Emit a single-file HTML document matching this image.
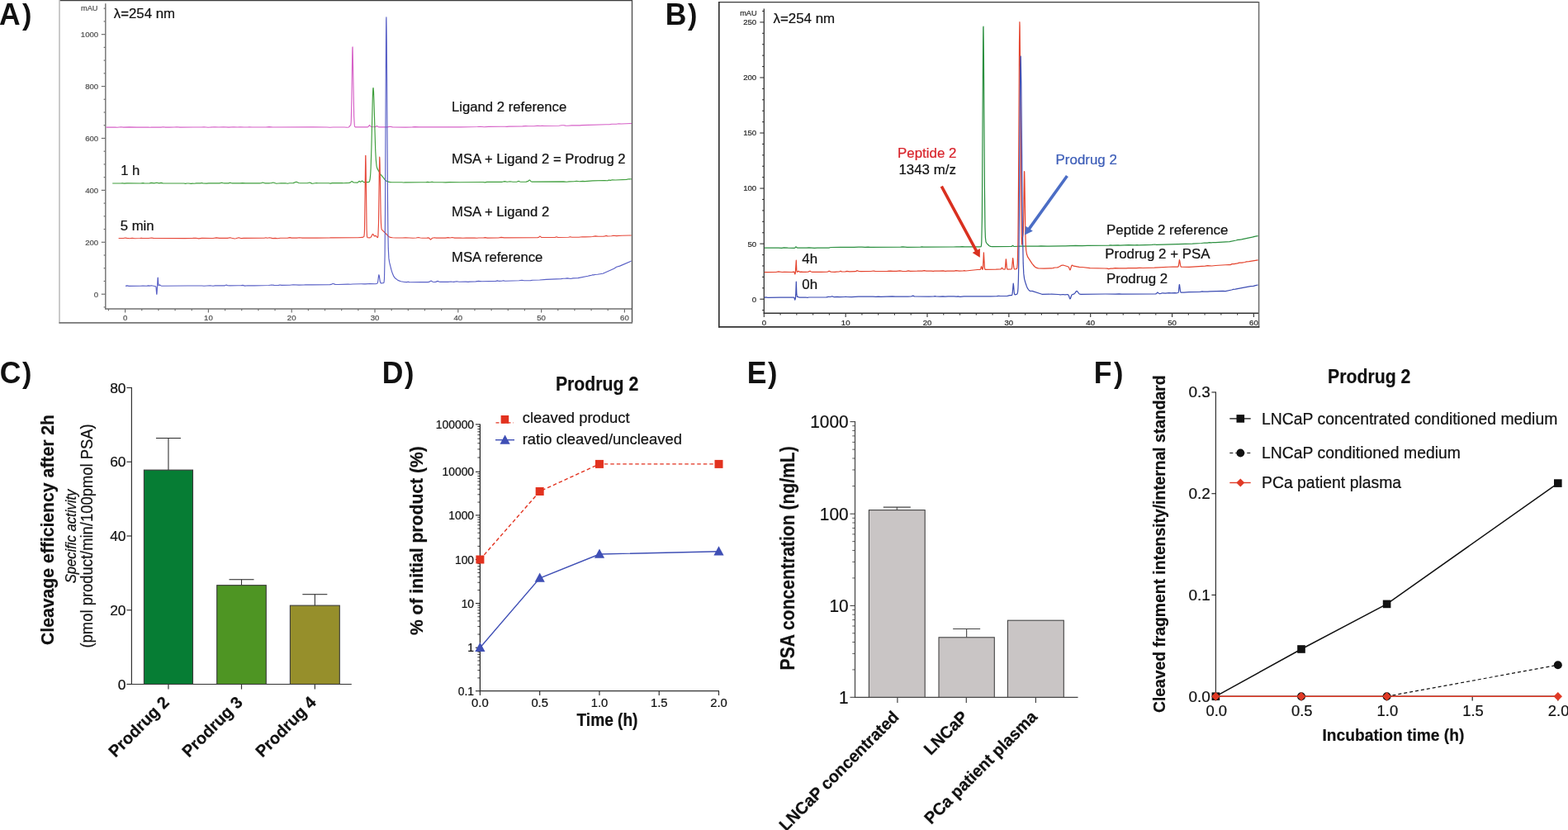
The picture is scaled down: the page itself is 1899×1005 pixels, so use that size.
<!DOCTYPE html>
<html><head><meta charset="utf-8"><title>Figure</title>
<style>
html,body{margin:0;padding:0;background:#fff;}
body{width:1899px;height:1005px;overflow:hidden;}
svg{display:block;font-family:'Liberation Sans', Arial, Helvetica, sans-serif;}
</style></head><body>
<svg width="1899" height="1005" viewBox="0 0 1899 1005">
<rect width="1899" height="1005" fill="#fff"/>
<text font-size="37" font-weight="bold" fill="#111" transform="translate(-0.90 29.80) scale(0.96 1)">A<tspan x="29.17" y="0.10" font-size="35.6">)</tspan></text>
<text font-size="37" font-weight="bold" fill="#111" transform="translate(805.70 29.80) scale(0.96 1)">B<tspan x="28.33" y="0.10" font-size="35.6">)</tspan></text>
<text font-size="37" font-weight="bold" fill="#111" transform="translate(-0.36 464.20) scale(0.96 1)">C<tspan x="28.60" y="-0.30" font-size="35.6">)</tspan></text>
<text font-size="37" font-weight="bold" fill="#111" transform="translate(462.70 463.80) scale(0.96 1)">D<tspan x="28.33" y="0.10" font-size="35.6">)</tspan></text>
<text font-size="37" font-weight="bold" fill="#111" transform="translate(904.80 463.80) scale(0.96 1)">E<tspan x="26.25" y="0.10" font-size="35.6">)</tspan></text>
<text font-size="37" font-weight="bold" fill="#111" transform="translate(1324.80 463.80) scale(0.96 1)">F<tspan x="25.10" y="0.10" font-size="35.6">)</tspan></text>
<line x1="72.00" y1="0.50" x2="766.00" y2="0.50" stroke="#3c3c3c" stroke-width="1.3" />
<line x1="765.50" y1="0.00" x2="765.50" y2="391.00" stroke="#4a4a4a" stroke-width="1.3" />
<line x1="72.00" y1="0.00" x2="72.00" y2="391.50" stroke="#bdbdbd" stroke-width="1.6" />
<line x1="71.50" y1="390.80" x2="766.00" y2="390.80" stroke="#767676" stroke-width="1.7" />
<line x1="127.80" y1="4.20" x2="127.80" y2="374.50" stroke="#707070" stroke-width="1.4" />
<line x1="127.10" y1="374.00" x2="765.00" y2="374.00" stroke="#707070" stroke-width="1.4" />
<line x1="125.60" y1="371.93" x2="127.80" y2="371.93" stroke="#707070" stroke-width="1.2" />
<line x1="122.80" y1="356.20" x2="127.80" y2="356.20" stroke="#707070" stroke-width="1.2" />
<text x="119.20" y="359.60" font-size="9.60" stroke="#505050" stroke-width="0.22" text-anchor="end" fill="#505050">0</text>
<line x1="125.60" y1="340.47" x2="127.80" y2="340.47" stroke="#707070" stroke-width="1.2" />
<line x1="125.60" y1="324.75" x2="127.80" y2="324.75" stroke="#707070" stroke-width="1.2" />
<line x1="125.60" y1="309.02" x2="127.80" y2="309.02" stroke="#707070" stroke-width="1.2" />
<line x1="122.80" y1="293.29" x2="127.80" y2="293.29" stroke="#707070" stroke-width="1.2" />
<text x="119.20" y="296.69" font-size="9.60" stroke="#505050" stroke-width="0.22" text-anchor="end" fill="#505050">200</text>
<line x1="125.60" y1="277.56" x2="127.80" y2="277.56" stroke="#707070" stroke-width="1.2" />
<line x1="125.60" y1="261.83" x2="127.80" y2="261.83" stroke="#707070" stroke-width="1.2" />
<line x1="125.60" y1="246.11" x2="127.80" y2="246.11" stroke="#707070" stroke-width="1.2" />
<line x1="122.80" y1="230.38" x2="127.80" y2="230.38" stroke="#707070" stroke-width="1.2" />
<text x="119.20" y="233.78" font-size="9.60" stroke="#505050" stroke-width="0.22" text-anchor="end" fill="#505050">400</text>
<line x1="125.60" y1="214.65" x2="127.80" y2="214.65" stroke="#707070" stroke-width="1.2" />
<line x1="125.60" y1="198.92" x2="127.80" y2="198.92" stroke="#707070" stroke-width="1.2" />
<line x1="125.60" y1="183.20" x2="127.80" y2="183.20" stroke="#707070" stroke-width="1.2" />
<line x1="122.80" y1="167.47" x2="127.80" y2="167.47" stroke="#707070" stroke-width="1.2" />
<text x="119.20" y="170.87" font-size="9.60" stroke="#505050" stroke-width="0.22" text-anchor="end" fill="#505050">600</text>
<line x1="125.60" y1="151.74" x2="127.80" y2="151.74" stroke="#707070" stroke-width="1.2" />
<line x1="125.60" y1="136.01" x2="127.80" y2="136.01" stroke="#707070" stroke-width="1.2" />
<line x1="125.60" y1="120.29" x2="127.80" y2="120.29" stroke="#707070" stroke-width="1.2" />
<line x1="122.80" y1="104.56" x2="127.80" y2="104.56" stroke="#707070" stroke-width="1.2" />
<text x="119.20" y="107.96" font-size="9.60" stroke="#505050" stroke-width="0.22" text-anchor="end" fill="#505050">800</text>
<line x1="125.60" y1="88.83" x2="127.80" y2="88.83" stroke="#707070" stroke-width="1.2" />
<line x1="125.60" y1="73.11" x2="127.80" y2="73.11" stroke="#707070" stroke-width="1.2" />
<line x1="125.60" y1="57.38" x2="127.80" y2="57.38" stroke="#707070" stroke-width="1.2" />
<line x1="122.80" y1="41.65" x2="127.80" y2="41.65" stroke="#707070" stroke-width="1.2" />
<text x="119.20" y="45.05" font-size="9.60" stroke="#505050" stroke-width="0.22" text-anchor="end" fill="#505050">1000</text>
<line x1="125.60" y1="25.92" x2="127.80" y2="25.92" stroke="#707070" stroke-width="1.2" />
<line x1="125.60" y1="10.19" x2="127.80" y2="10.19" stroke="#707070" stroke-width="1.2" />
<line x1="131.44" y1="374.00" x2="131.44" y2="376.30" stroke="#707070" stroke-width="1.2" />
<line x1="151.60" y1="374.00" x2="151.60" y2="378.60" stroke="#707070" stroke-width="1.2" />
<text x="151.60" y="388.40" font-size="9.60" stroke="#505050" stroke-width="0.22" text-anchor="middle" fill="#505050">0</text>
<line x1="171.76" y1="374.00" x2="171.76" y2="376.30" stroke="#707070" stroke-width="1.2" />
<line x1="191.92" y1="374.00" x2="191.92" y2="376.30" stroke="#707070" stroke-width="1.2" />
<line x1="212.08" y1="374.00" x2="212.08" y2="376.30" stroke="#707070" stroke-width="1.2" />
<line x1="232.24" y1="374.00" x2="232.24" y2="376.30" stroke="#707070" stroke-width="1.2" />
<line x1="252.40" y1="374.00" x2="252.40" y2="378.60" stroke="#707070" stroke-width="1.2" />
<text x="252.40" y="388.40" font-size="9.60" stroke="#505050" stroke-width="0.22" text-anchor="middle" fill="#505050">10</text>
<line x1="272.56" y1="374.00" x2="272.56" y2="376.30" stroke="#707070" stroke-width="1.2" />
<line x1="292.72" y1="374.00" x2="292.72" y2="376.30" stroke="#707070" stroke-width="1.2" />
<line x1="312.88" y1="374.00" x2="312.88" y2="376.30" stroke="#707070" stroke-width="1.2" />
<line x1="333.04" y1="374.00" x2="333.04" y2="376.30" stroke="#707070" stroke-width="1.2" />
<line x1="353.20" y1="374.00" x2="353.20" y2="378.60" stroke="#707070" stroke-width="1.2" />
<text x="353.20" y="388.40" font-size="9.60" stroke="#505050" stroke-width="0.22" text-anchor="middle" fill="#505050">20</text>
<line x1="373.36" y1="374.00" x2="373.36" y2="376.30" stroke="#707070" stroke-width="1.2" />
<line x1="393.52" y1="374.00" x2="393.52" y2="376.30" stroke="#707070" stroke-width="1.2" />
<line x1="413.68" y1="374.00" x2="413.68" y2="376.30" stroke="#707070" stroke-width="1.2" />
<line x1="433.84" y1="374.00" x2="433.84" y2="376.30" stroke="#707070" stroke-width="1.2" />
<line x1="454.00" y1="374.00" x2="454.00" y2="378.60" stroke="#707070" stroke-width="1.2" />
<text x="454.00" y="388.40" font-size="9.60" stroke="#505050" stroke-width="0.22" text-anchor="middle" fill="#505050">30</text>
<line x1="474.16" y1="374.00" x2="474.16" y2="376.30" stroke="#707070" stroke-width="1.2" />
<line x1="494.32" y1="374.00" x2="494.32" y2="376.30" stroke="#707070" stroke-width="1.2" />
<line x1="514.48" y1="374.00" x2="514.48" y2="376.30" stroke="#707070" stroke-width="1.2" />
<line x1="534.64" y1="374.00" x2="534.64" y2="376.30" stroke="#707070" stroke-width="1.2" />
<line x1="554.80" y1="374.00" x2="554.80" y2="378.60" stroke="#707070" stroke-width="1.2" />
<text x="554.80" y="388.40" font-size="9.60" stroke="#505050" stroke-width="0.22" text-anchor="middle" fill="#505050">40</text>
<line x1="574.96" y1="374.00" x2="574.96" y2="376.30" stroke="#707070" stroke-width="1.2" />
<line x1="595.12" y1="374.00" x2="595.12" y2="376.30" stroke="#707070" stroke-width="1.2" />
<line x1="615.28" y1="374.00" x2="615.28" y2="376.30" stroke="#707070" stroke-width="1.2" />
<line x1="635.44" y1="374.00" x2="635.44" y2="376.30" stroke="#707070" stroke-width="1.2" />
<line x1="655.60" y1="374.00" x2="655.60" y2="378.60" stroke="#707070" stroke-width="1.2" />
<text x="655.60" y="388.40" font-size="9.60" stroke="#505050" stroke-width="0.22" text-anchor="middle" fill="#505050">50</text>
<line x1="675.76" y1="374.00" x2="675.76" y2="376.30" stroke="#707070" stroke-width="1.2" />
<line x1="695.92" y1="374.00" x2="695.92" y2="376.30" stroke="#707070" stroke-width="1.2" />
<line x1="716.08" y1="374.00" x2="716.08" y2="376.30" stroke="#707070" stroke-width="1.2" />
<line x1="736.24" y1="374.00" x2="736.24" y2="376.30" stroke="#707070" stroke-width="1.2" />
<line x1="756.40" y1="374.00" x2="756.40" y2="378.60" stroke="#707070" stroke-width="1.2" />
<text x="756.40" y="388.40" font-size="9.60" stroke="#505050" stroke-width="0.22" text-anchor="middle" fill="#505050">60</text>
<text x="98.00" y="13.20" font-size="9.20" stroke="#505050" stroke-width="0.22" fill="#505050">mAU</text>
<text x="137.80" y="22.30" font-size="16.80" stroke="#111" stroke-width="0.22" fill="#111">λ=254 nm</text>
<path d="M128.5 154.1 L139.5 154.1 L142.0 154.3 L146.5 153.8 L149.5 154.1 L156.5 153.9 L165.5 154.1 L179.5 154.1 L181.5 154.3 L183.5 154.1 L195.0 154.1 L197.5 153.7 L200.5 154.1 L205.0 154.1 L211.0 154.0 L214.0 153.8 L218.0 154.1 L234.5 154.0 L244.0 154.0 L247.0 153.7 L252.0 154.2 L260.0 153.8 L265.0 154.0 L270.5 153.8 L277.0 154.1 L283.0 153.8 L287.5 154.0 L291.0 153.7 L295.5 154.0 L300.0 154.0 L302.0 153.8 L305.0 154.0 L322.0 154.0 L326.0 153.6 L330.5 154.0 L379.0 153.9 L396.0 154.0 L399.5 154.2 L403.5 154.0 L417.0 154.0 L420.3 154.3 L422.3 154.0 L422.9 153.6 L423.9 152.0 L424.5 151.9 L424.7 151.7 L425.1 149.2 L425.3 145.9 L425.9 120.5 L426.7 63.8 L426.9 57.1 L427.1 56.9 L428.7 140.7 L429.3 151.4 L429.7 153.3 L430.3 153.9 L445.0 153.9 L446.0 153.5 L447.2 151.8 L447.6 151.6 L449.0 153.2 L449.6 153.5 L454.2 153.7 L455.0 153.4 L456.4 152.5 L456.8 152.6 L458.0 153.7 L459.2 153.9 L468.9 153.9 L472.4 153.3 L475.4 153.9 L491.4 154.1 L499.4 153.9 L502.4 153.6 L507.4 153.9 L540.9 153.9 L543.4 153.7 L545.4 153.9 L557.9 153.9 L578.4 153.5 L581.4 153.2 L586.4 153.7 L591.4 153.4 L606.9 153.2 L611.4 153.2 L613.9 153.4 L616.4 153.1 L632.9 152.9 L636.4 152.6 L639.9 152.8 L646.9 152.7 L650.9 152.3 L654.4 152.5 L656.9 152.3 L658.9 152.5 L676.9 152.2 L680.4 151.8 L682.9 151.7 L684.9 152.1 L687.9 152.2 L692.4 151.9 L700.4 151.8 L702.4 151.9 L704.4 151.6 L733.9 150.7 L737.9 150.8 L740.9 150.3 L746.4 150.2 L749.4 149.8 L752.4 150.0 L764.9 149.5" stroke="#d661c7" stroke-width="1.15" fill="none" stroke-linejoin="round" />
<path d="M136.2 222.0 L146.2 222.0 L148.2 221.7 L150.2 222.1 L153.7 221.9 L170.2 222.0 L173.2 221.6 L175.2 222.0 L179.7 222.0 L181.2 221.9 L183.2 221.4 L186.7 221.9 L189.7 221.3 L192.7 221.9 L195.2 221.4 L197.2 221.9 L198.2 222.0 L222.7 222.0 L224.7 222.4 L226.2 222.0 L228.7 222.0 L231.2 222.4 L233.2 222.1 L235.2 222.2 L237.7 221.9 L242.7 221.9 L244.2 221.5 L245.7 221.9 L250.2 222.1 L252.7 221.9 L265.7 221.9 L268.7 221.2 L270.2 221.7 L271.7 221.9 L276.7 221.9 L278.7 221.2 L280.2 221.8 L281.2 221.9 L290.7 221.9 L293.7 221.6 L297.2 221.9 L314.7 221.9 L316.2 221.8 L318.2 221.0 L320.7 221.8 L326.7 221.8 L328.2 221.7 L330.7 221.0 L331.7 221.2 L334.7 222.2 L340.2 221.7 L341.7 221.9 L345.7 221.8 L348.2 222.3 L350.7 221.8 L355.2 221.6 L358.7 220.2 L359.7 220.5 L361.7 221.5 L363.2 221.7 L372.2 221.7 L375.2 221.0 L377.7 222.1 L378.7 222.2 L383.2 221.5 L385.2 221.7 L398.2 221.7 L400.2 222.1 L402.2 221.6 L414.2 221.6 L415.9 221.8 L422.7 221.4 L424.1 221.1 L425.5 219.9 L426.1 219.6 L428.3 221.0 L432.7 221.1 L433.5 220.9 L434.9 219.4 L435.3 219.4 L436.3 220.3 L436.9 220.4 L438.5 218.9 L438.9 219.1 L439.9 220.2 L440.7 220.6 L445.5 220.6 L446.7 220.5 L447.5 219.6 L448.1 217.2 L448.7 211.2 L449.1 203.9 L449.9 178.7 L451.3 118.3 L451.7 108.7 L451.9 106.7 L452.1 106.5 L452.5 110.8 L452.9 120.7 L454.7 181.9 L455.3 193.3 L456.1 201.1 L456.9 204.1 L460.7 210.8 L464.3 215.1 L466.3 217.9 L467.7 219.0 L469.5 219.9 L471.5 220.4 L474.1 220.7 L486.9 220.8 L488.7 221.0 L490.7 220.8 L515.7 220.7 L517.7 220.4 L520.7 220.7 L523.2 220.2 L525.2 220.7 L535.7 220.7 L539.7 220.9 L544.2 220.6 L557.2 220.7 L583.7 220.5 L585.2 220.5 L587.2 220.9 L589.7 220.4 L608.2 220.3 L611.2 219.6 L614.2 220.2 L617.7 219.8 L621.2 220.2 L624.7 220.2 L626.2 220.1 L627.7 219.4 L628.2 219.4 L629.7 220.0 L630.7 220.2 L637.2 220.1 L639.7 219.4 L641.2 218.0 L641.7 218.0 L643.2 219.8 L644.2 220.1 L682.7 219.9 L686.2 220.2 L689.2 219.9 L695.2 219.8 L698.2 219.2 L701.7 219.7 L705.7 219.4 L708.2 219.6 L717.7 218.9 L732.2 218.5 L735.7 218.8 L736.2 218.7 L737.2 218.0 L737.7 218.0 L738.7 218.4 L739.2 218.4 L741.7 217.7 L745.2 218.0 L758.7 217.4 L761.7 216.7 L764.7 216.9" stroke="#3f9e3c" stroke-width="1.15" fill="none" stroke-linejoin="round" />
<path d="M143.6 288.5 L149.6 288.5 L151.6 288.0 L153.6 288.4 L157.1 288.8 L160.1 288.3 L163.1 288.7 L169.6 288.5 L171.1 288.2 L172.6 288.5 L180.1 288.5 L183.6 288.0 L185.6 288.4 L187.6 288.5 L224.1 288.6 L233.6 288.4 L237.1 288.2 L240.6 288.9 L244.6 288.4 L258.1 288.5 L262.1 287.9 L265.6 288.4 L275.6 288.4 L278.6 287.7 L280.6 288.3 L284.1 289.0 L285.6 288.8 L289.1 287.7 L291.6 288.5 L292.6 288.6 L295.1 288.4 L320.1 288.3 L322.1 287.8 L323.6 288.2 L326.6 287.8 L330.1 288.6 L333.6 288.4 L336.1 288.8 L339.6 288.2 L348.6 288.1 L351.1 287.6 L353.1 288.1 L354.6 288.1 L359.6 288.1 L362.6 287.7 L366.1 288.1 L383.6 288.1 L399.6 287.9 L401.6 287.7 L403.6 287.9 L433.3 287.8 L439.1 287.4 L440.7 286.6 L440.9 286.3 L441.3 282.8 L441.5 277.8 L442.7 188.4 L442.9 188.4 L443.1 198.9 L444.1 278.2 L444.5 286.1 L444.7 287.2 L445.1 287.8 L447.7 287.9 L448.9 287.5 L449.7 286.4 L450.9 283.9 L451.5 283.4 L452.1 283.9 L453.3 285.9 L453.7 286.0 L454.7 285.4 L455.1 285.4 L457.1 287.6 L457.5 287.5 L457.9 285.8 L458.5 270.4 L459.3 208.2 L459.7 190.1 L459.9 191.8 L460.1 198.7 L461.1 257.7 L461.5 270.6 L461.9 276.0 L462.3 277.8 L462.7 278.4 L467.5 283.0 L470.1 285.9 L471.3 286.8 L472.7 287.4 L475.3 287.8 L479.3 288.0 L487.3 288.0 L491.1 287.8 L500.1 288.2 L504.1 288.0 L506.6 287.5 L509.1 288.0 L511.6 288.2 L517.1 288.1 L519.1 287.9 L520.1 288.5 L521.1 289.9 L521.6 290.1 L523.6 288.3 L526.1 287.8 L528.1 288.1 L539.6 288.1 L542.6 287.6 L545.1 288.0 L547.6 287.5 L550.6 288.1 L557.1 288.1 L560.6 288.3 L564.6 288.1 L574.6 288.0 L577.6 288.3 L579.6 288.0 L585.1 288.0 L587.6 287.6 L590.1 288.1 L603.6 288.0 L607.1 287.4 L610.6 287.9 L651.1 287.6 L652.1 287.5 L652.6 287.3 L653.6 286.2 L654.1 286.1 L655.6 287.4 L656.6 287.5 L672.1 287.4 L673.1 287.3 L674.1 286.8 L675.6 287.5 L676.1 287.5 L688.6 287.2 L690.6 286.7 L692.6 287.2 L694.1 287.2 L701.1 287.2 L705.1 286.7 L708.6 286.9 L715.1 286.7 L717.6 286.5 L721.1 285.9 L724.6 286.3 L731.1 286.1 L732.6 286.0 L734.1 285.4 L735.6 285.9 L736.6 286.0 L740.6 285.8 L743.1 285.2 L746.6 285.6 L753.1 285.3 L764.6 285.0" stroke="#e6483a" stroke-width="1.15" fill="none" stroke-linejoin="round" />
<path d="M152.0 346.4 L154.0 345.9 L156.0 346.4 L170.0 346.3 L173.0 346.1 L177.5 346.3 L179.5 345.9 L181.5 346.1 L183.5 345.8 L188.5 346.7 L188.9 347.4 L189.1 348.7 L189.7 356.1 L189.9 356.1 L190.1 353.9 L191.1 336.3 L191.3 336.2 L191.7 342.4 L192.1 345.6 L192.3 345.8 L193.5 344.9 L195.0 346.0 L196.0 346.2 L227.0 346.0 L244.5 346.0 L247.0 346.3 L254.5 345.8 L258.0 346.2 L260.5 345.9 L272.0 345.9 L274.0 345.0 L275.5 345.6 L278.0 345.9 L288.0 345.7 L291.5 345.8 L294.0 345.4 L296.5 346.1 L300.0 345.8 L308.0 345.8 L325.5 345.5 L329.0 345.0 L332.0 345.4 L334.0 345.5 L337.5 345.4 L339.0 345.0 L341.0 345.4 L351.0 345.3 L355.0 344.8 L362.0 345.1 L368.0 345.0 L370.0 344.7 L372.0 344.9 L374.0 344.7 L377.5 344.9 L399.5 344.6 L401.0 344.4 L403.0 343.5 L403.5 343.5 L406.0 344.4 L409.5 344.5 L421.5 344.1 L424.5 344.3 L427.0 344.0 L437.5 343.8 L440.9 343.8 L442.5 343.9 L448.3 343.5 L454.9 343.7 L456.7 343.3 L457.3 342.5 L457.7 340.8 L458.5 334.3 L458.9 332.7 L459.3 333.9 L460.3 340.8 L460.9 342.6 L461.3 342.9 L461.9 342.9 L464.1 342.8 L464.7 342.5 L465.1 341.5 L465.5 337.3 L466.1 309.1 L466.5 257.7 L467.5 45.2 L467.7 24.3 L467.9 20.8 L468.3 50.4 L469.5 242.4 L469.9 280.5 L470.3 300.9 L470.9 312.9 L471.7 317.9 L473.9 326.6 L475.3 331.1 L476.9 334.7 L478.5 336.8 L481.9 339.4 L485.5 340.8 L489.9 341.5 L492.7 341.6 L494.3 341.2 L495.7 341.6 L496.9 341.7 L518.1 341.6 L519.6 341.4 L521.6 340.2 L522.1 340.1 L524.1 341.2 L525.6 341.5 L527.6 341.4 L530.1 340.4 L532.1 341.2 L533.1 341.4 L536.6 341.2 L539.6 341.4 L542.6 341.4 L546.1 341.0 L548.1 341.3 L549.6 341.4 L553.1 340.7 L556.1 341.3 L564.1 341.1 L567.1 341.4 L568.6 341.1 L576.1 340.9 L579.6 340.4 L583.6 340.8 L600.6 340.4 L602.6 339.9 L603.6 340.3 L604.6 340.4 L607.6 340.3 L609.6 339.8 L611.1 340.1 L612.6 340.2 L628.6 339.8 L632.1 339.3 L634.6 339.7 L642.6 339.6 L645.1 339.3 L653.6 339.0 L661.6 338.4 L679.6 337.6 L682.1 337.2 L684.1 337.3 L687.1 336.9 L691.1 337.5 L694.1 336.9 L700.1 336.6 L712.1 334.3 L714.6 333.6 L716.6 333.3 L717.6 332.8 L719.1 332.9 L720.6 332.5 L723.6 332.3 L730.1 331.2 L743.6 325.2 L746.6 323.3 L750.6 322.1 L764.6 316.0" stroke="#5960c6" stroke-width="1.15" fill="none" stroke-linejoin="round" />
<text x="547.00" y="135.20" font-size="16.70" stroke="#111" stroke-width="0.22" fill="#111">Ligand 2 reference</text>
<text x="547.00" y="198.40" font-size="16.70" stroke="#111" stroke-width="0.22" fill="#111">MSA + Ligand 2 = Prodrug 2</text>
<text x="547.00" y="262.20" font-size="16.70" stroke="#111" stroke-width="0.22" fill="#111">MSA + Ligand 2</text>
<text x="547.00" y="317.30" font-size="16.70" stroke="#111" stroke-width="0.22" fill="#111">MSA reference</text>
<text x="146.20" y="211.50" font-size="16.70" stroke="#111" stroke-width="0.22" fill="#111">1 h</text>
<text x="145.80" y="278.50" font-size="16.70" stroke="#111" stroke-width="0.22" fill="#111">5 min</text>
<line x1="870.50" y1="2.60" x2="1525.00" y2="2.60" stroke="#3a3a3a" stroke-width="1.4" />
<line x1="1524.60" y1="2.00" x2="1524.60" y2="396.50" stroke="#6a6a6a" stroke-width="1.5" />
<line x1="870.80" y1="2.00" x2="870.80" y2="396.50" stroke="#333" stroke-width="1.7" />
<line x1="870.00" y1="395.80" x2="1525.30" y2="395.80" stroke="#333" stroke-width="1.7" />
<line x1="925.30" y1="10.50" x2="925.30" y2="379.80" stroke="#333" stroke-width="1.3" />
<line x1="924.70" y1="379.30" x2="1524.00" y2="379.30" stroke="#333" stroke-width="1.5" />
<line x1="923.10" y1="375.61" x2="925.30" y2="375.61" stroke="#333" stroke-width="1.1" />
<line x1="920.30" y1="362.20" x2="925.30" y2="362.20" stroke="#333" stroke-width="1.1" />
<text x="916.20" y="365.60" font-size="9.60" stroke="#2a2a2a" stroke-width="0.22" text-anchor="end" fill="#2a2a2a">0</text>
<line x1="923.10" y1="348.79" x2="925.30" y2="348.79" stroke="#333" stroke-width="1.1" />
<line x1="923.10" y1="335.38" x2="925.30" y2="335.38" stroke="#333" stroke-width="1.1" />
<line x1="923.10" y1="321.96" x2="925.30" y2="321.96" stroke="#333" stroke-width="1.1" />
<line x1="923.10" y1="308.55" x2="925.30" y2="308.55" stroke="#333" stroke-width="1.1" />
<line x1="920.30" y1="295.14" x2="925.30" y2="295.14" stroke="#333" stroke-width="1.1" />
<text x="916.20" y="298.54" font-size="9.60" stroke="#2a2a2a" stroke-width="0.22" text-anchor="end" fill="#2a2a2a">50</text>
<line x1="923.10" y1="281.73" x2="925.30" y2="281.73" stroke="#333" stroke-width="1.1" />
<line x1="923.10" y1="268.32" x2="925.30" y2="268.32" stroke="#333" stroke-width="1.1" />
<line x1="923.10" y1="254.90" x2="925.30" y2="254.90" stroke="#333" stroke-width="1.1" />
<line x1="923.10" y1="241.49" x2="925.30" y2="241.49" stroke="#333" stroke-width="1.1" />
<line x1="920.30" y1="228.08" x2="925.30" y2="228.08" stroke="#333" stroke-width="1.1" />
<text x="916.20" y="231.48" font-size="9.60" stroke="#2a2a2a" stroke-width="0.22" text-anchor="end" fill="#2a2a2a">100</text>
<line x1="923.10" y1="214.67" x2="925.30" y2="214.67" stroke="#333" stroke-width="1.1" />
<line x1="923.10" y1="201.26" x2="925.30" y2="201.26" stroke="#333" stroke-width="1.1" />
<line x1="923.10" y1="187.84" x2="925.30" y2="187.84" stroke="#333" stroke-width="1.1" />
<line x1="923.10" y1="174.43" x2="925.30" y2="174.43" stroke="#333" stroke-width="1.1" />
<line x1="920.30" y1="161.02" x2="925.30" y2="161.02" stroke="#333" stroke-width="1.1" />
<text x="916.20" y="164.42" font-size="9.60" stroke="#2a2a2a" stroke-width="0.22" text-anchor="end" fill="#2a2a2a">150</text>
<line x1="923.10" y1="147.61" x2="925.30" y2="147.61" stroke="#333" stroke-width="1.1" />
<line x1="923.10" y1="134.20" x2="925.30" y2="134.20" stroke="#333" stroke-width="1.1" />
<line x1="923.10" y1="120.78" x2="925.30" y2="120.78" stroke="#333" stroke-width="1.1" />
<line x1="923.10" y1="107.37" x2="925.30" y2="107.37" stroke="#333" stroke-width="1.1" />
<line x1="920.30" y1="93.96" x2="925.30" y2="93.96" stroke="#333" stroke-width="1.1" />
<text x="916.20" y="97.36" font-size="9.60" stroke="#2a2a2a" stroke-width="0.22" text-anchor="end" fill="#2a2a2a">200</text>
<line x1="923.10" y1="80.55" x2="925.30" y2="80.55" stroke="#333" stroke-width="1.1" />
<line x1="923.10" y1="67.14" x2="925.30" y2="67.14" stroke="#333" stroke-width="1.1" />
<line x1="923.10" y1="53.72" x2="925.30" y2="53.72" stroke="#333" stroke-width="1.1" />
<line x1="923.10" y1="40.31" x2="925.30" y2="40.31" stroke="#333" stroke-width="1.1" />
<line x1="920.30" y1="26.90" x2="925.30" y2="26.90" stroke="#333" stroke-width="1.1" />
<text x="916.20" y="30.30" font-size="9.60" stroke="#2a2a2a" stroke-width="0.22" text-anchor="end" fill="#2a2a2a">250</text>
<line x1="923.10" y1="13.49" x2="925.30" y2="13.49" stroke="#333" stroke-width="1.1" />
<line x1="925.30" y1="379.30" x2="925.30" y2="384.00" stroke="#333" stroke-width="1.1" />
<text x="925.30" y="393.60" font-size="9.60" stroke="#2a2a2a" stroke-width="0.22" text-anchor="middle" fill="#2a2a2a">0</text>
<line x1="945.07" y1="379.30" x2="945.07" y2="381.60" stroke="#333" stroke-width="1.1" />
<line x1="964.84" y1="379.30" x2="964.84" y2="381.60" stroke="#333" stroke-width="1.1" />
<line x1="984.61" y1="379.30" x2="984.61" y2="381.60" stroke="#333" stroke-width="1.1" />
<line x1="1004.38" y1="379.30" x2="1004.38" y2="381.60" stroke="#333" stroke-width="1.1" />
<line x1="1024.15" y1="379.30" x2="1024.15" y2="384.00" stroke="#333" stroke-width="1.1" />
<text x="1024.15" y="393.60" font-size="9.60" stroke="#2a2a2a" stroke-width="0.22" text-anchor="middle" fill="#2a2a2a">10</text>
<line x1="1043.92" y1="379.30" x2="1043.92" y2="381.60" stroke="#333" stroke-width="1.1" />
<line x1="1063.69" y1="379.30" x2="1063.69" y2="381.60" stroke="#333" stroke-width="1.1" />
<line x1="1083.46" y1="379.30" x2="1083.46" y2="381.60" stroke="#333" stroke-width="1.1" />
<line x1="1103.23" y1="379.30" x2="1103.23" y2="381.60" stroke="#333" stroke-width="1.1" />
<line x1="1123.00" y1="379.30" x2="1123.00" y2="384.00" stroke="#333" stroke-width="1.1" />
<text x="1123.00" y="393.60" font-size="9.60" stroke="#2a2a2a" stroke-width="0.22" text-anchor="middle" fill="#2a2a2a">20</text>
<line x1="1142.77" y1="379.30" x2="1142.77" y2="381.60" stroke="#333" stroke-width="1.1" />
<line x1="1162.54" y1="379.30" x2="1162.54" y2="381.60" stroke="#333" stroke-width="1.1" />
<line x1="1182.31" y1="379.30" x2="1182.31" y2="381.60" stroke="#333" stroke-width="1.1" />
<line x1="1202.08" y1="379.30" x2="1202.08" y2="381.60" stroke="#333" stroke-width="1.1" />
<line x1="1221.85" y1="379.30" x2="1221.85" y2="384.00" stroke="#333" stroke-width="1.1" />
<text x="1221.85" y="393.60" font-size="9.60" stroke="#2a2a2a" stroke-width="0.22" text-anchor="middle" fill="#2a2a2a">30</text>
<line x1="1241.62" y1="379.30" x2="1241.62" y2="381.60" stroke="#333" stroke-width="1.1" />
<line x1="1261.39" y1="379.30" x2="1261.39" y2="381.60" stroke="#333" stroke-width="1.1" />
<line x1="1281.16" y1="379.30" x2="1281.16" y2="381.60" stroke="#333" stroke-width="1.1" />
<line x1="1300.93" y1="379.30" x2="1300.93" y2="381.60" stroke="#333" stroke-width="1.1" />
<line x1="1320.70" y1="379.30" x2="1320.70" y2="384.00" stroke="#333" stroke-width="1.1" />
<text x="1320.70" y="393.60" font-size="9.60" stroke="#2a2a2a" stroke-width="0.22" text-anchor="middle" fill="#2a2a2a">40</text>
<line x1="1340.47" y1="379.30" x2="1340.47" y2="381.60" stroke="#333" stroke-width="1.1" />
<line x1="1360.24" y1="379.30" x2="1360.24" y2="381.60" stroke="#333" stroke-width="1.1" />
<line x1="1380.01" y1="379.30" x2="1380.01" y2="381.60" stroke="#333" stroke-width="1.1" />
<line x1="1399.78" y1="379.30" x2="1399.78" y2="381.60" stroke="#333" stroke-width="1.1" />
<line x1="1419.55" y1="379.30" x2="1419.55" y2="384.00" stroke="#333" stroke-width="1.1" />
<text x="1419.55" y="393.60" font-size="9.60" stroke="#2a2a2a" stroke-width="0.22" text-anchor="middle" fill="#2a2a2a">50</text>
<line x1="1439.32" y1="379.30" x2="1439.32" y2="381.60" stroke="#333" stroke-width="1.1" />
<line x1="1459.09" y1="379.30" x2="1459.09" y2="381.60" stroke="#333" stroke-width="1.1" />
<line x1="1478.86" y1="379.30" x2="1478.86" y2="381.60" stroke="#333" stroke-width="1.1" />
<line x1="1498.63" y1="379.30" x2="1498.63" y2="381.60" stroke="#333" stroke-width="1.1" />
<line x1="1518.40" y1="379.30" x2="1518.40" y2="384.00" stroke="#333" stroke-width="1.1" />
<text x="1518.40" y="393.60" font-size="9.60" stroke="#2a2a2a" stroke-width="0.22" text-anchor="middle" fill="#2a2a2a">60</text>
<text x="896.20" y="18.60" font-size="9.20" stroke="#2a2a2a" stroke-width="0.22" fill="#2a2a2a">mAU</text>
<text x="936.50" y="27.50" font-size="16.90" stroke="#111" stroke-width="0.22" fill="#111">λ=254 nm</text>
<path d="M925.8 300.2 L942.8 300.2 L946.8 300.3 L949.3 299.8 L954.3 300.1 L961.8 300.3 L962.8 300.1 L963.8 298.9 L964.3 299.0 L965.3 300.0 L965.8 300.1 L976.8 300.1 L979.8 299.8 L986.3 300.3 L989.8 300.1 L1003.8 300.1 L1006.3 299.5 L1034.3 299.4 L1039.8 299.1 L1043.8 299.1 L1047.8 299.4 L1051.3 299.1 L1053.8 299.4 L1090.8 299.2 L1093.3 298.9 L1098.8 299.4 L1114.8 299.1 L1116.8 298.8 L1118.3 299.1 L1122.8 299.2 L1154.8 299.0 L1158.3 298.8 L1162.3 298.9 L1165.3 298.7 L1168.3 298.9 L1186.8 298.9 L1188.0 298.7 L1188.4 297.7 L1188.8 293.4 L1189.4 262.5 L1190.6 51.9 L1190.8 33.4 L1191.0 32.1 L1191.4 67.3 L1192.4 226.4 L1193.0 275.4 L1193.4 287.5 L1194.0 292.8 L1194.8 294.3 L1197.8 297.5 L1199.6 298.4 L1202.0 298.7 L1224.6 298.5 L1225.1 298.4 L1226.6 297.3 L1227.6 298.2 L1228.6 298.5 L1236.1 298.2 L1248.1 298.2 L1252.6 298.0 L1257.1 298.1 L1260.6 297.8 L1268.1 298.1 L1286.6 297.8 L1290.1 297.9 L1302.6 297.4 L1310.6 297.7 L1317.1 297.3 L1343.1 297.1 L1345.1 296.8 L1347.1 297.1 L1354.1 296.9 L1356.6 297.1 L1366.6 296.6 L1374.6 296.9 L1377.1 296.7 L1379.1 296.8 L1395.1 296.4 L1398.6 296.0 L1400.6 296.3 L1444.1 295.1 L1455.1 294.5 L1458.6 294.0 L1462.1 294.1 L1464.6 293.7 L1467.1 293.8 L1469.1 293.5 L1472.1 293.6 L1489.1 292.6 L1497.1 291.0 L1499.1 290.4 L1500.6 290.3 L1503.6 289.8 L1516.6 287.2 L1520.6 286.1 L1523.6 285.6" stroke="#2b8f3f" stroke-width="1.2" fill="none" stroke-linejoin="round" />
<path d="M925.8 329.6 L939.8 329.5 L942.8 328.9 L947.3 329.5 L949.8 329.3 L958.8 329.5 L961.8 329.1 L962.8 332.0 L963.3 330.4 L964.3 315.2 L964.8 327.4 L965.3 329.3 L965.8 329.2 L966.8 328.3 L967.3 328.3 L968.3 329.2 L968.8 329.3 L970.3 329.1 L972.3 329.4 L975.3 329.4 L978.8 329.1 L980.8 328.2 L981.3 328.3 L982.3 329.0 L983.8 329.3 L994.3 329.4 L1001.8 329.2 L1002.8 329.0 L1003.8 328.3 L1004.3 328.2 L1006.3 329.1 L1011.3 329.4 L1012.8 329.1 L1016.3 329.0 L1017.8 328.3 L1018.3 328.4 L1019.3 328.9 L1020.3 329.0 L1023.8 328.9 L1025.8 328.4 L1028.8 328.8 L1035.8 328.7 L1036.8 328.4 L1037.8 327.7 L1038.3 327.7 L1039.8 328.3 L1042.8 328.6 L1054.8 328.5 L1057.8 328.0 L1059.8 328.4 L1061.3 328.5 L1074.8 328.4 L1078.3 328.1 L1081.3 328.4 L1085.8 328.3 L1089.8 327.9 L1093.3 328.5 L1097.8 328.3 L1100.3 327.9 L1102.3 328.3 L1110.8 328.2 L1112.8 328.0 L1114.8 328.2 L1116.8 328.1 L1119.3 327.6 L1121.8 328.2 L1127.8 328.2 L1130.3 328.4 L1131.8 328.2 L1137.8 328.2 L1142.3 327.9 L1144.8 328.3 L1147.3 328.1 L1155.8 328.1 L1157.8 327.7 L1161.8 328.2 L1166.3 328.0 L1167.8 327.6 L1169.8 328.0 L1183.8 326.5 L1187.2 326.4 L1187.6 325.9 L1188.6 322.5 L1189.6 326.0 L1190.0 326.3 L1190.4 324.8 L1190.6 322.3 L1191.4 305.8 L1192.4 323.7 L1192.6 325.3 L1193.0 326.3 L1206.4 326.2 L1211.9 325.9 L1212.5 325.6 L1213.5 324.2 L1214.9 326.0 L1216.9 326.1 L1217.3 325.5 L1217.5 324.4 L1218.3 313.9 L1218.5 313.9 L1219.3 323.6 L1219.7 325.7 L1219.9 326.0 L1220.3 326.1 L1224.9 326.0 L1225.3 325.5 L1225.7 323.5 L1226.5 313.4 L1226.7 312.5 L1227.1 315.2 L1227.7 322.7 L1228.1 325.1 L1228.5 325.9 L1228.9 326.0 L1230.3 325.8 L1231.3 325.4 L1231.7 324.5 L1231.9 323.5 L1232.3 318.5 L1232.9 293.1 L1233.5 224.8 L1234.5 52.1 L1234.9 26.7 L1235.1 32.1 L1235.5 71.7 L1236.7 252.8 L1237.1 283.5 L1237.5 295.3 L1237.7 296.1 L1237.9 294.9 L1238.5 287.4 L1239.1 283.9 L1239.3 280.9 L1239.7 264.9 L1240.5 207.5 L1240.7 208.2 L1240.9 216.0 L1241.9 284.4 L1242.3 297.3 L1242.7 303.0 L1243.5 307.8 L1244.7 311.2 L1250.1 319.4 L1252.7 322.5 L1254.9 324.2 L1257.5 324.8 L1264.3 325.1 L1273.3 324.9 L1275.1 324.7 L1277.7 324.0 L1280.7 323.9 L1282.7 323.0 L1285.7 321.3 L1287.5 321.0 L1293.9 323.0 L1294.5 323.8 L1295.5 326.4 L1295.9 326.9 L1296.1 326.8 L1296.5 325.9 L1297.7 321.8 L1298.3 321.1 L1300.5 322.2 L1304.5 322.8 L1307.1 323.4 L1310.6 323.5 L1320.1 324.6 L1338.1 325.0 L1341.1 325.2 L1342.6 325.6 L1345.1 325.2 L1347.6 325.2 L1350.6 324.6 L1355.1 324.9 L1364.1 324.8 L1366.1 324.6 L1367.6 324.7 L1376.1 324.6 L1380.1 324.3 L1384.1 324.5 L1398.1 324.2 L1420.1 323.0 L1426.4 323.1 L1427.0 322.8 L1427.4 321.5 L1428.4 314.7 L1428.8 316.0 L1429.6 321.2 L1430.0 322.6 L1430.4 323.1 L1431.2 323.2 L1440.1 323.4 L1459.6 322.2 L1462.6 321.6 L1467.6 322.0 L1472.1 321.5 L1488.1 320.5 L1490.1 320.6 L1492.1 319.6 L1494.6 319.6 L1498.6 318.9 L1501.1 318.2 L1504.1 318.1 L1507.6 317.5 L1509.6 316.9 L1512.6 316.7 L1523.6 314.8" stroke="#e4432d" stroke-width="1.2" fill="none" stroke-linejoin="round" />
<path d="M925.8 360.3 L927.3 359.9 L929.8 360.4 L944.8 360.2 L961.3 360.2 L961.8 360.3 L962.8 363.2 L963.3 361.5 L963.8 355.5 L964.3 341.1 L964.8 355.1 L965.3 359.4 L965.8 359.2 L966.3 359.2 L967.3 359.9 L968.3 360.1 L975.8 360.0 L977.8 360.3 L979.8 360.0 L1000.8 359.8 L1003.3 359.3 L1005.3 359.5 L1007.8 358.8 L1009.3 359.4 L1010.3 359.6 L1013.8 359.4 L1017.3 359.6 L1022.3 359.5 L1024.3 359.3 L1025.8 359.5 L1031.3 359.6 L1039.8 359.2 L1057.3 359.2 L1060.8 359.4 L1063.8 359.2 L1066.8 359.3 L1080.8 358.9 L1084.3 359.1 L1099.8 359.1 L1103.3 359.0 L1105.8 358.1 L1107.3 358.9 L1107.8 359.0 L1125.3 359.1 L1130.3 359.0 L1132.3 358.7 L1134.3 359.0 L1138.3 359.1 L1141.8 358.9 L1144.8 359.2 L1148.3 358.9 L1155.3 358.9 L1158.3 359.2 L1160.3 358.9 L1162.8 359.3 L1167.3 358.9 L1199.8 358.8 L1207.3 358.6 L1209.3 358.4 L1211.8 358.5 L1220.0 358.3 L1223.0 357.6 L1225.2 357.6 L1225.8 357.0 L1226.2 354.7 L1227.2 343.2 L1227.6 345.9 L1228.2 353.5 L1228.6 356.0 L1228.8 356.5 L1229.2 356.8 L1231.0 356.4 L1231.8 356.0 L1232.2 355.3 L1232.6 353.4 L1233.0 348.6 L1233.4 338.0 L1233.8 317.6 L1234.4 260.8 L1235.6 96.0 L1236.0 69.6 L1236.2 68.0 L1236.8 100.2 L1238.4 275.7 L1239.2 318.9 L1239.8 331.4 L1240.6 337.6 L1241.8 342.0 L1243.4 346.8 L1244.6 349.4 L1246.2 351.5 L1247.6 352.4 L1248.6 352.5 L1250.0 352.4 L1261.9 356.3 L1273.4 356.2 L1281.4 356.5 L1284.4 356.8 L1287.4 356.5 L1289.9 356.8 L1292.9 356.5 L1293.4 356.7 L1293.9 357.1 L1294.4 358.0 L1295.4 361.0 L1295.9 361.9 L1296.4 361.5 L1297.4 358.5 L1297.9 357.3 L1298.4 356.7 L1300.9 355.9 L1301.9 354.9 L1303.4 352.7 L1303.9 352.4 L1304.4 352.5 L1304.9 353.0 L1306.9 355.7 L1307.9 356.2 L1308.9 356.3 L1338.9 356.0 L1350.9 356.1 L1355.4 355.9 L1358.4 356.1 L1399.4 355.9 L1400.4 355.6 L1401.9 354.0 L1402.4 354.2 L1403.4 355.3 L1404.4 355.6 L1405.9 355.4 L1407.9 354.8 L1411.4 355.2 L1415.9 354.7 L1418.4 354.9 L1422.9 354.7 L1424.9 354.8 L1426.7 354.5 L1427.1 354.1 L1427.5 352.4 L1428.1 346.0 L1428.3 344.5 L1428.5 344.5 L1429.5 352.4 L1429.9 353.8 L1430.5 354.2 L1433.6 354.2 L1440.1 353.7 L1453.6 353.3 L1456.1 352.9 L1457.6 353.1 L1460.1 353.0 L1462.6 353.2 L1465.1 352.9 L1481.1 352.4 L1484.1 352.6 L1491.6 351.0 L1493.6 350.4 L1496.1 350.2 L1514.6 346.7 L1518.1 346.3 L1520.6 345.6 L1523.6 345.0" stroke="#3d4db3" stroke-width="1.2" fill="none" stroke-linejoin="round" />
<text x="1087.00" y="191.40" font-size="16.90" stroke="#d8232b" stroke-width="0.22" fill="#d8232b">Peptide 2</text>
<text x="1088.40" y="211.10" font-size="16.90" stroke="#111" stroke-width="0.22" fill="#111">1343 m/z</text>
<text x="1278.60" y="199.40" font-size="16.90" stroke="#3b5cb7" stroke-width="0.22" fill="#3b5cb7">Prodrug 2</text>
<text x="1340.00" y="283.50" font-size="16.90" stroke="#111" stroke-width="0.22" fill="#111">Peptide 2 reference</text>
<text x="1338.30" y="312.50" font-size="16.90" stroke="#111" stroke-width="0.22" fill="#111">Prodrug 2 + PSA</text>
<text x="1340.00" y="342.80" font-size="16.90" stroke="#111" stroke-width="0.22" fill="#111">Prodrug 2</text>
<text x="971.30" y="319.30" font-size="16.90" stroke="#111" stroke-width="0.22" fill="#111">4h</text>
<text x="971.30" y="349.80" font-size="16.90" stroke="#111" stroke-width="0.22" fill="#111">0h</text>
<line x1="1140.30" y1="225.70" x2="1182.76" y2="304.32" stroke="#d9301f" stroke-width="3.6" />
<polygon points="1186.8,311.8 1177.7,305.9 1186.9,301.0" fill="#d9301f"/>
<line x1="1292.40" y1="213.00" x2="1245.96" y2="277.60" stroke="#4b6dc5" stroke-width="3.6" />
<polygon points="1241.0,284.5 1242.3,273.8 1250.8,279.8" fill="#4b6dc5"/>
<line x1="159.40" y1="469.00" x2="159.40" y2="829.00" stroke="#333" stroke-width="1.2" />
<line x1="158.80" y1="828.50" x2="425.80" y2="828.50" stroke="#333" stroke-width="1.2" />
<line x1="153.40" y1="828.50" x2="159.40" y2="828.50" stroke="#333" stroke-width="1.2" />
<text x="152.50" y="834.60" font-size="17.40" stroke="#111" stroke-width="0.22" text-anchor="end" fill="#111">0</text>
<line x1="153.40" y1="738.75" x2="159.40" y2="738.75" stroke="#333" stroke-width="1.2" />
<text x="152.50" y="744.85" font-size="17.40" stroke="#111" stroke-width="0.22" text-anchor="end" fill="#111">20</text>
<line x1="153.40" y1="649.00" x2="159.40" y2="649.00" stroke="#333" stroke-width="1.2" />
<text x="152.50" y="655.10" font-size="17.40" stroke="#111" stroke-width="0.22" text-anchor="end" fill="#111">40</text>
<line x1="153.40" y1="559.25" x2="159.40" y2="559.25" stroke="#333" stroke-width="1.2" />
<text x="152.50" y="565.35" font-size="17.40" stroke="#111" stroke-width="0.22" text-anchor="end" fill="#111">60</text>
<line x1="153.40" y1="469.50" x2="159.40" y2="469.50" stroke="#333" stroke-width="1.2" />
<text x="152.50" y="475.60" font-size="17.40" stroke="#111" stroke-width="0.22" text-anchor="end" fill="#111">80</text>
<line x1="203.95" y1="569.12" x2="203.95" y2="530.53" stroke="#333" stroke-width="1.1" />
<line x1="188.95" y1="530.53" x2="218.95" y2="530.53" stroke="#333" stroke-width="1.1" />
<rect x="174.40" y="569.12" width="59.10" height="259.38" fill="#067d34" stroke="#3a3a3a" stroke-width="1.1"/>
<line x1="203.95" y1="828.50" x2="203.95" y2="834.60" stroke="#333" stroke-width="1.2" />
<line x1="292.50" y1="708.68" x2="292.50" y2="701.73" stroke="#333" stroke-width="1.1" />
<line x1="277.50" y1="701.73" x2="307.50" y2="701.73" stroke="#333" stroke-width="1.1" />
<rect x="262.70" y="708.68" width="59.60" height="119.82" fill="#4e9523" stroke="#3a3a3a" stroke-width="1.1"/>
<line x1="292.50" y1="828.50" x2="292.50" y2="834.60" stroke="#333" stroke-width="1.2" />
<line x1="381.35" y1="733.14" x2="381.35" y2="719.68" stroke="#333" stroke-width="1.1" />
<line x1="366.35" y1="719.68" x2="396.35" y2="719.68" stroke="#333" stroke-width="1.1" />
<rect x="351.40" y="733.14" width="59.90" height="95.36" fill="#968f2b" stroke="#3a3a3a" stroke-width="1.1"/>
<line x1="381.35" y1="828.50" x2="381.35" y2="834.60" stroke="#333" stroke-width="1.2" />
<text font-size="20.20" stroke="#111" stroke-width="0.22" font-weight="bold" text-anchor="end" fill="#111" transform="translate(206.10 851.70) rotate(-45) scale(0.9850 1)">Prodrug 2</text>
<text font-size="20.20" stroke="#111" stroke-width="0.22" font-weight="bold" text-anchor="end" fill="#111" transform="translate(295.10 851.70) rotate(-45) scale(0.9850 1)">Prodrug 3</text>
<text font-size="20.20" stroke="#111" stroke-width="0.22" font-weight="bold" text-anchor="end" fill="#111" transform="translate(384.10 851.70) rotate(-45) scale(0.9850 1)">Prodrug 4</text>
<text font-size="22.74" stroke="#111" stroke-width="0.22" font-weight="bold" text-anchor="middle" fill="#111" transform="translate(64.70 641.50) rotate(-90) scale(0.9320 1)">Cleavage efficiency after 2h</text>
<text font-size="18.80" stroke="#111" stroke-width="0.22" text-anchor="middle" fill="#111" font-style="italic" transform="translate(91.50 649.50) rotate(-90) scale(0.8850 1)">Specific activity</text>
<text font-size="19.40" stroke="#111" stroke-width="0.22" text-anchor="middle" fill="#111" transform="translate(111.70 648.90) rotate(-90) scale(0.9500 1)">(pmol product/min/100pmol PSA)</text>
<line x1="581.40" y1="513.40" x2="581.40" y2="837.20" stroke="#222" stroke-width="1.2" />
<line x1="580.80" y1="836.70" x2="871.00" y2="836.70" stroke="#333" stroke-width="1.2" />
<line x1="575.90" y1="513.90" x2="581.40" y2="513.90" stroke="#222" stroke-width="1.1" />
<text x="574.10" y="519.00" font-size="13.90" stroke="#111" stroke-width="0.22" text-anchor="end" fill="#111">100000</text>
<line x1="575.90" y1="571.30" x2="581.40" y2="571.30" stroke="#222" stroke-width="1.1" />
<text x="574.10" y="576.40" font-size="13.90" stroke="#111" stroke-width="0.22" text-anchor="end" fill="#111">10000</text>
<line x1="578.40" y1="554.02" x2="581.40" y2="554.02" stroke="#222" stroke-width="0.9" />
<line x1="578.40" y1="543.91" x2="581.40" y2="543.91" stroke="#222" stroke-width="0.9" />
<line x1="578.40" y1="536.74" x2="581.40" y2="536.74" stroke="#222" stroke-width="0.9" />
<line x1="578.40" y1="531.18" x2="581.40" y2="531.18" stroke="#222" stroke-width="0.9" />
<line x1="578.40" y1="526.63" x2="581.40" y2="526.63" stroke="#222" stroke-width="0.9" />
<line x1="578.40" y1="522.79" x2="581.40" y2="522.79" stroke="#222" stroke-width="0.9" />
<line x1="578.40" y1="519.46" x2="581.40" y2="519.46" stroke="#222" stroke-width="0.9" />
<line x1="578.40" y1="516.53" x2="581.40" y2="516.53" stroke="#222" stroke-width="0.9" />
<line x1="575.90" y1="623.90" x2="581.40" y2="623.90" stroke="#222" stroke-width="1.1" />
<text x="574.10" y="629.00" font-size="13.90" stroke="#111" stroke-width="0.22" text-anchor="end" fill="#111">1000</text>
<line x1="578.40" y1="608.07" x2="581.40" y2="608.07" stroke="#222" stroke-width="0.9" />
<line x1="578.40" y1="598.80" x2="581.40" y2="598.80" stroke="#222" stroke-width="0.9" />
<line x1="578.40" y1="592.23" x2="581.40" y2="592.23" stroke="#222" stroke-width="0.9" />
<line x1="578.40" y1="587.13" x2="581.40" y2="587.13" stroke="#222" stroke-width="0.9" />
<line x1="578.40" y1="582.97" x2="581.40" y2="582.97" stroke="#222" stroke-width="0.9" />
<line x1="578.40" y1="579.45" x2="581.40" y2="579.45" stroke="#222" stroke-width="0.9" />
<line x1="578.40" y1="576.40" x2="581.40" y2="576.40" stroke="#222" stroke-width="0.9" />
<line x1="578.40" y1="573.71" x2="581.40" y2="573.71" stroke="#222" stroke-width="0.9" />
<line x1="575.90" y1="677.50" x2="581.40" y2="677.50" stroke="#222" stroke-width="1.1" />
<text x="574.10" y="682.60" font-size="13.90" stroke="#111" stroke-width="0.22" text-anchor="end" fill="#111">100</text>
<line x1="578.40" y1="661.36" x2="581.40" y2="661.36" stroke="#222" stroke-width="0.9" />
<line x1="578.40" y1="651.93" x2="581.40" y2="651.93" stroke="#222" stroke-width="0.9" />
<line x1="578.40" y1="645.23" x2="581.40" y2="645.23" stroke="#222" stroke-width="0.9" />
<line x1="578.40" y1="640.04" x2="581.40" y2="640.04" stroke="#222" stroke-width="0.9" />
<line x1="578.40" y1="635.79" x2="581.40" y2="635.79" stroke="#222" stroke-width="0.9" />
<line x1="578.40" y1="632.20" x2="581.40" y2="632.20" stroke="#222" stroke-width="0.9" />
<line x1="578.40" y1="629.09" x2="581.40" y2="629.09" stroke="#222" stroke-width="0.9" />
<line x1="578.40" y1="626.35" x2="581.40" y2="626.35" stroke="#222" stroke-width="0.9" />
<line x1="575.90" y1="730.60" x2="581.40" y2="730.60" stroke="#222" stroke-width="1.1" />
<text x="574.10" y="735.70" font-size="13.90" stroke="#111" stroke-width="0.22" text-anchor="end" fill="#111">10</text>
<line x1="578.40" y1="714.62" x2="581.40" y2="714.62" stroke="#222" stroke-width="0.9" />
<line x1="578.40" y1="705.26" x2="581.40" y2="705.26" stroke="#222" stroke-width="0.9" />
<line x1="578.40" y1="698.63" x2="581.40" y2="698.63" stroke="#222" stroke-width="0.9" />
<line x1="578.40" y1="693.48" x2="581.40" y2="693.48" stroke="#222" stroke-width="0.9" />
<line x1="578.40" y1="689.28" x2="581.40" y2="689.28" stroke="#222" stroke-width="0.9" />
<line x1="578.40" y1="685.73" x2="581.40" y2="685.73" stroke="#222" stroke-width="0.9" />
<line x1="578.40" y1="682.65" x2="581.40" y2="682.65" stroke="#222" stroke-width="0.9" />
<line x1="578.40" y1="679.93" x2="581.40" y2="679.93" stroke="#222" stroke-width="0.9" />
<line x1="575.90" y1="784.20" x2="581.40" y2="784.20" stroke="#222" stroke-width="1.1" />
<text x="574.10" y="789.30" font-size="13.90" stroke="#111" stroke-width="0.22" text-anchor="end" fill="#111">1</text>
<line x1="578.40" y1="768.06" x2="581.40" y2="768.06" stroke="#222" stroke-width="0.9" />
<line x1="578.40" y1="758.63" x2="581.40" y2="758.63" stroke="#222" stroke-width="0.9" />
<line x1="578.40" y1="751.93" x2="581.40" y2="751.93" stroke="#222" stroke-width="0.9" />
<line x1="578.40" y1="746.74" x2="581.40" y2="746.74" stroke="#222" stroke-width="0.9" />
<line x1="578.40" y1="742.49" x2="581.40" y2="742.49" stroke="#222" stroke-width="0.9" />
<line x1="578.40" y1="738.90" x2="581.40" y2="738.90" stroke="#222" stroke-width="0.9" />
<line x1="578.40" y1="735.79" x2="581.40" y2="735.79" stroke="#222" stroke-width="0.9" />
<line x1="578.40" y1="733.05" x2="581.40" y2="733.05" stroke="#222" stroke-width="0.9" />
<line x1="575.90" y1="836.70" x2="581.40" y2="836.70" stroke="#222" stroke-width="1.1" />
<text x="574.10" y="841.80" font-size="13.90" stroke="#111" stroke-width="0.22" text-anchor="end" fill="#111">0.1</text>
<line x1="578.40" y1="820.90" x2="581.40" y2="820.90" stroke="#222" stroke-width="0.9" />
<line x1="578.40" y1="811.65" x2="581.40" y2="811.65" stroke="#222" stroke-width="0.9" />
<line x1="578.40" y1="805.09" x2="581.40" y2="805.09" stroke="#222" stroke-width="0.9" />
<line x1="578.40" y1="800.00" x2="581.40" y2="800.00" stroke="#222" stroke-width="0.9" />
<line x1="578.40" y1="795.85" x2="581.40" y2="795.85" stroke="#222" stroke-width="0.9" />
<line x1="578.40" y1="792.33" x2="581.40" y2="792.33" stroke="#222" stroke-width="0.9" />
<line x1="578.40" y1="789.29" x2="581.40" y2="789.29" stroke="#222" stroke-width="0.9" />
<line x1="578.40" y1="786.60" x2="581.40" y2="786.60" stroke="#222" stroke-width="0.9" />
<line x1="581.40" y1="836.70" x2="581.40" y2="842.00" stroke="#333" stroke-width="1.2" />
<text x="581.40" y="855.50" font-size="14.80" stroke="#111" stroke-width="0.22" text-anchor="middle" fill="#111">0.0</text>
<line x1="653.67" y1="836.70" x2="653.67" y2="842.00" stroke="#333" stroke-width="1.2" />
<text x="653.67" y="855.50" font-size="14.80" stroke="#111" stroke-width="0.22" text-anchor="middle" fill="#111">0.5</text>
<line x1="725.95" y1="836.70" x2="725.95" y2="842.00" stroke="#333" stroke-width="1.2" />
<text x="725.95" y="855.50" font-size="14.80" stroke="#111" stroke-width="0.22" text-anchor="middle" fill="#111">1.0</text>
<line x1="798.23" y1="836.70" x2="798.23" y2="842.00" stroke="#333" stroke-width="1.2" />
<text x="798.23" y="855.50" font-size="14.80" stroke="#111" stroke-width="0.22" text-anchor="middle" fill="#111">1.5</text>
<line x1="870.50" y1="836.70" x2="870.50" y2="842.00" stroke="#333" stroke-width="1.2" />
<text x="870.50" y="855.50" font-size="14.80" stroke="#111" stroke-width="0.22" text-anchor="middle" fill="#111">2.0</text>
<text font-size="21.37" stroke="#111" stroke-width="0.22" font-weight="bold" fill="#111" transform="translate(698.50 878.70) scale(0.8950 1)">Time (h)</text>
<text font-size="23.10" stroke="#111" stroke-width="0.22" font-weight="bold" fill="#111" transform="translate(672.90 472.90) scale(0.9200 1)">Prodrug 2</text>
<text font-size="22.42" stroke="#111" stroke-width="0.22" font-weight="bold" text-anchor="middle" fill="#111" transform="translate(511.90 654.65) rotate(-90) scale(0.9430 1)">% of initial product (%)</text>
<path d="M581.4 784.2 L653.7 700.0 L726.0 671.0 L870.5 667.7" stroke="#3f4fb5" stroke-width="1.4" fill="none" />
<path d="M581.4 677.5 L653.7 595.0 L726.0 561.9 L870.5 561.9" stroke="#e2321f" stroke-width="1.4" fill="none" stroke-dasharray="4.5 3"/>
<rect x="576.40" y="672.50" width="10.00" height="10.00" fill="#e2321f"/>
<rect x="648.67" y="590.00" width="10.00" height="10.00" fill="#e2321f"/>
<rect x="720.95" y="556.90" width="10.00" height="10.00" fill="#e2321f"/>
<rect x="865.50" y="556.90" width="10.00" height="10.00" fill="#e2321f"/>
<polygon points="581.4,777.7 575.3,788.9 587.5,788.9" fill="#3f4fb5"/>
<polygon points="653.7,693.5 647.6,704.7 659.8,704.7" fill="#3f4fb5"/>
<polygon points="726.0,664.5 719.9,675.7 732.1,675.7" fill="#3f4fb5"/>
<polygon points="870.5,661.2 864.4,672.4 876.6,672.4" fill="#3f4fb5"/>
<line x1="600.50" y1="511.80" x2="622.00" y2="511.80" stroke="#e2321f" stroke-width="1.3" stroke-dasharray="4 3"/>
<rect x="606.60" y="503.00" width="9.60" height="9.80" fill="#e2321f"/>
<line x1="600.00" y1="532.70" x2="623.00" y2="532.70" stroke="#3f4fb5" stroke-width="1.4" />
<polygon points="611.6,526.5 605.5,537.7 617.7,537.7" fill="#3f4fb5"/>
<text font-size="18.77" stroke="#111" stroke-width="0.22" fill="#111" transform="translate(632.70 512.00) scale(0.9800 1)">cleaved product</text>
<text font-size="18.77" stroke="#111" stroke-width="0.22" fill="#111" transform="translate(632.70 538.00) scale(0.9800 1)">ratio cleaved/uncleaved</text>
<line x1="1035.50" y1="510.10" x2="1035.50" y2="844.80" stroke="#444" stroke-width="1.2" />
<line x1="1034.90" y1="844.30" x2="1305.50" y2="844.30" stroke="#444" stroke-width="1.3" />
<line x1="1029.50" y1="510.60" x2="1035.50" y2="510.60" stroke="#444" stroke-width="1.1" />
<text font-size="21.50" stroke="#111" stroke-width="0.22" text-anchor="end" fill="#111" transform="translate(1027.60 518.20) scale(0.9700 1)">1000</text>
<line x1="1029.50" y1="622.20" x2="1035.50" y2="622.20" stroke="#444" stroke-width="1.1" />
<text font-size="21.50" stroke="#111" stroke-width="0.22" text-anchor="end" fill="#111" transform="translate(1027.60 629.80) scale(0.9700 1)">100</text>
<line x1="1032.30" y1="588.61" x2="1035.50" y2="588.61" stroke="#444" stroke-width="0.9" />
<line x1="1032.30" y1="568.95" x2="1035.50" y2="568.95" stroke="#444" stroke-width="0.9" />
<line x1="1032.30" y1="555.01" x2="1035.50" y2="555.01" stroke="#444" stroke-width="0.9" />
<line x1="1032.30" y1="544.19" x2="1035.50" y2="544.19" stroke="#444" stroke-width="0.9" />
<line x1="1032.30" y1="535.36" x2="1035.50" y2="535.36" stroke="#444" stroke-width="0.9" />
<line x1="1032.30" y1="527.89" x2="1035.50" y2="527.89" stroke="#444" stroke-width="0.9" />
<line x1="1032.30" y1="521.42" x2="1035.50" y2="521.42" stroke="#444" stroke-width="0.9" />
<line x1="1032.30" y1="515.71" x2="1035.50" y2="515.71" stroke="#444" stroke-width="0.9" />
<line x1="1029.50" y1="733.40" x2="1035.50" y2="733.40" stroke="#444" stroke-width="1.1" />
<text font-size="21.50" stroke="#111" stroke-width="0.22" text-anchor="end" fill="#111" transform="translate(1027.60 741.00) scale(0.9700 1)">10</text>
<line x1="1032.30" y1="699.93" x2="1035.50" y2="699.93" stroke="#444" stroke-width="0.9" />
<line x1="1032.30" y1="680.34" x2="1035.50" y2="680.34" stroke="#444" stroke-width="0.9" />
<line x1="1032.30" y1="666.45" x2="1035.50" y2="666.45" stroke="#444" stroke-width="0.9" />
<line x1="1032.30" y1="655.67" x2="1035.50" y2="655.67" stroke="#444" stroke-width="0.9" />
<line x1="1032.30" y1="646.87" x2="1035.50" y2="646.87" stroke="#444" stroke-width="0.9" />
<line x1="1032.30" y1="639.43" x2="1035.50" y2="639.43" stroke="#444" stroke-width="0.9" />
<line x1="1032.30" y1="632.98" x2="1035.50" y2="632.98" stroke="#444" stroke-width="0.9" />
<line x1="1032.30" y1="627.29" x2="1035.50" y2="627.29" stroke="#444" stroke-width="0.9" />
<line x1="1029.50" y1="844.30" x2="1035.50" y2="844.30" stroke="#444" stroke-width="1.1" />
<text font-size="21.50" stroke="#111" stroke-width="0.22" text-anchor="end" fill="#111" transform="translate(1027.60 851.90) scale(0.9700 1)">1</text>
<line x1="1032.30" y1="810.92" x2="1035.50" y2="810.92" stroke="#444" stroke-width="0.9" />
<line x1="1032.30" y1="791.39" x2="1035.50" y2="791.39" stroke="#444" stroke-width="0.9" />
<line x1="1032.30" y1="777.53" x2="1035.50" y2="777.53" stroke="#444" stroke-width="0.9" />
<line x1="1032.30" y1="766.78" x2="1035.50" y2="766.78" stroke="#444" stroke-width="0.9" />
<line x1="1032.30" y1="758.00" x2="1035.50" y2="758.00" stroke="#444" stroke-width="0.9" />
<line x1="1032.30" y1="750.58" x2="1035.50" y2="750.58" stroke="#444" stroke-width="0.9" />
<line x1="1032.30" y1="744.15" x2="1035.50" y2="744.15" stroke="#444" stroke-width="0.9" />
<line x1="1032.30" y1="738.47" x2="1035.50" y2="738.47" stroke="#444" stroke-width="0.9" />
<line x1="1086.30" y1="617.60" x2="1086.30" y2="614.10" stroke="#444" stroke-width="1.1" />
<line x1="1069.80" y1="614.10" x2="1102.80" y2="614.10" stroke="#444" stroke-width="1.1" />
<rect x="1052.40" y="617.60" width="67.80" height="226.70" fill="#c9c5c5" stroke="#444" stroke-width="1.1"/>
<line x1="1170.65" y1="771.80" x2="1170.65" y2="761.50" stroke="#444" stroke-width="1.1" />
<line x1="1154.15" y1="761.50" x2="1187.15" y2="761.50" stroke="#444" stroke-width="1.1" />
<rect x="1137.00" y="771.80" width="67.30" height="72.50" fill="#c9c5c5" stroke="#444" stroke-width="1.1"/>
<rect x="1220.40" y="751.20" width="67.90" height="93.10" fill="#c9c5c5" stroke="#444" stroke-width="1.1"/>
<line x1="1086.90" y1="844.30" x2="1086.90" y2="851.00" stroke="#444" stroke-width="1.2" />
<line x1="1170.30" y1="844.30" x2="1170.30" y2="851.00" stroke="#444" stroke-width="1.2" />
<line x1="1254.40" y1="844.30" x2="1254.40" y2="851.00" stroke="#444" stroke-width="1.2" />
<text font-size="20.40" stroke="#111" stroke-width="0.22" font-weight="bold" text-anchor="end" fill="#111" transform="translate(1089.90 869.30) rotate(-45) scale(0.9750 1)">LNCaP concentrated</text>
<text font-size="20.40" stroke="#111" stroke-width="0.22" font-weight="bold" text-anchor="end" fill="#111" transform="translate(1173.30 869.30) rotate(-45) scale(0.9750 1)">LNCaP</text>
<text font-size="20.40" stroke="#111" stroke-width="0.22" font-weight="bold" text-anchor="end" fill="#111" transform="translate(1257.40 869.30) rotate(-45) scale(0.9750 1)">PCa patient plasma</text>
<text font-size="23.00" stroke="#111" stroke-width="0.22" font-weight="bold" text-anchor="middle" fill="#111" transform="translate(962.20 675.80) rotate(-90) scale(0.9180 1)">PSA concentration (ng/mL)</text>
<line x1="1472.40" y1="474.60" x2="1472.40" y2="843.70" stroke="#222" stroke-width="1.1" />
<line x1="1471.90" y1="843.20" x2="1887.50" y2="843.20" stroke="#222" stroke-width="1.2" />
<line x1="1467.40" y1="843.20" x2="1472.40" y2="843.20" stroke="#222" stroke-width="1.1" />
<text x="1465.90" y="849.70" font-size="19.00" stroke="#111" stroke-width="0.22" text-anchor="end" fill="#111">0.0</text>
<line x1="1467.40" y1="720.45" x2="1472.40" y2="720.45" stroke="#222" stroke-width="1.1" />
<text x="1465.90" y="726.95" font-size="19.00" stroke="#111" stroke-width="0.22" text-anchor="end" fill="#111">0.1</text>
<line x1="1467.40" y1="597.70" x2="1472.40" y2="597.70" stroke="#222" stroke-width="1.1" />
<text x="1465.90" y="604.20" font-size="19.00" stroke="#111" stroke-width="0.22" text-anchor="end" fill="#111">0.2</text>
<line x1="1467.40" y1="474.95" x2="1472.40" y2="474.95" stroke="#222" stroke-width="1.1" />
<text x="1465.90" y="481.45" font-size="19.00" stroke="#111" stroke-width="0.22" text-anchor="end" fill="#111">0.3</text>
<line x1="1472.40" y1="843.20" x2="1472.40" y2="848.50" stroke="#222" stroke-width="1.2" />
<text font-size="19.20" stroke="#111" stroke-width="0.22" text-anchor="middle" fill="#111" transform="translate(1473.20 866.70) scale(0.9600 1)">0.0</text>
<line x1="1576.00" y1="843.20" x2="1576.00" y2="848.50" stroke="#222" stroke-width="1.2" />
<text font-size="19.20" stroke="#111" stroke-width="0.22" text-anchor="middle" fill="#111" transform="translate(1576.80 866.70) scale(0.9600 1)">0.5</text>
<line x1="1679.60" y1="843.20" x2="1679.60" y2="848.50" stroke="#222" stroke-width="1.2" />
<text font-size="19.20" stroke="#111" stroke-width="0.22" text-anchor="middle" fill="#111" transform="translate(1680.40 866.70) scale(0.9600 1)">1.0</text>
<line x1="1783.20" y1="843.20" x2="1783.20" y2="848.50" stroke="#222" stroke-width="1.2" />
<text font-size="19.20" stroke="#111" stroke-width="0.22" text-anchor="middle" fill="#111" transform="translate(1784.00 866.70) scale(0.9600 1)">1.5</text>
<line x1="1886.80" y1="843.20" x2="1886.80" y2="848.50" stroke="#222" stroke-width="1.2" />
<text font-size="19.20" stroke="#111" stroke-width="0.22" text-anchor="middle" fill="#111" transform="translate(1887.60 866.70) scale(0.9600 1)">2.0</text>
<text font-size="20.79" stroke="#111" stroke-width="0.22" font-weight="bold" fill="#111" transform="translate(1601.50 896.50) scale(0.9250 1)">Incubation time (h)</text>
<text font-size="23.10" stroke="#111" stroke-width="0.22" font-weight="bold" fill="#111" transform="translate(1608.10 464.00) scale(0.9200 1)">Prodrug 2</text>
<text font-size="21.00" stroke="#111" stroke-width="0.22" font-weight="bold" text-anchor="middle" fill="#111" transform="translate(1410.80 658.70) rotate(-90) scale(0.9200 1)">Cleaved fragment intensity/internal standard</text>
<path d="M1472.4 843.2 L1576.0 786.0 L1679.6 731.4 L1886.8 585.1" stroke="#111" stroke-width="1.5" fill="none" />
<path d="M1679.6 843.2 L1886.8 805.2" stroke="#111" stroke-width="1.2" fill="none" stroke-dasharray="4 3"/>
<line x1="1472.40" y1="843.20" x2="1886.80" y2="843.20" stroke="#e03a26" stroke-width="1.6" />
<rect x="1467.60" y="838.40" width="9.60" height="9.60" fill="#111"/>
<rect x="1571.20" y="781.20" width="9.60" height="9.60" fill="#111"/>
<rect x="1674.80" y="726.60" width="9.60" height="9.60" fill="#111"/>
<rect x="1882.00" y="580.30" width="9.60" height="9.60" fill="#111"/>
<circle cx="1576.0" cy="843.2" r="5" fill="#111"/>
<circle cx="1679.6" cy="843.2" r="5" fill="#111"/>
<circle cx="1886.8" cy="805.2" r="5" fill="#111"/>
<polygon points="1472.4,838.0 1477.6,843.2 1472.4,848.4 1467.2,843.2" fill="#e03a26"/>
<polygon points="1576.0,838.0 1581.2,843.2 1576.0,848.4 1570.8,843.2" fill="#e03a26"/>
<polygon points="1679.6,838.0 1684.8,843.2 1679.6,848.4 1674.4,843.2" fill="#e03a26"/>
<polygon points="1886.8,838.0 1892.0,843.2 1886.8,848.4 1881.6,843.2" fill="#e03a26"/>
<line x1="1489.30" y1="506.90" x2="1514.70" y2="506.90" stroke="#111" stroke-width="1.3" />
<rect x="1497.50" y="502.10" width="9.60" height="9.60" fill="#111"/>
<line x1="1489.30" y1="548.50" x2="1514.70" y2="548.50" stroke="#111" stroke-width="1.2" stroke-dasharray="4 3"/>
<circle cx="1502.3" cy="548.5" r="4.9" fill="#111"/>
<line x1="1489.30" y1="584.50" x2="1514.70" y2="584.50" stroke="#e03a26" stroke-width="1.4" />
<polygon points="1502.3,579.5 1507.3,584.5 1502.3,589.5 1497.3,584.5" fill="#e03a26"/>
<text font-size="20.64" stroke="#111" stroke-width="0.22" fill="#111" transform="translate(1528.00 513.50) scale(0.9390 1)">LNCaP concentrated conditioned medium</text>
<text font-size="20.64" stroke="#111" stroke-width="0.22" fill="#111" transform="translate(1528.00 555.10) scale(0.9390 1)">LNCaP conditioned medium</text>
<text font-size="20.64" stroke="#111" stroke-width="0.22" fill="#111" transform="translate(1528.00 590.80) scale(0.9390 1)">PCa patient plasma</text>
</svg>
</body></html>
